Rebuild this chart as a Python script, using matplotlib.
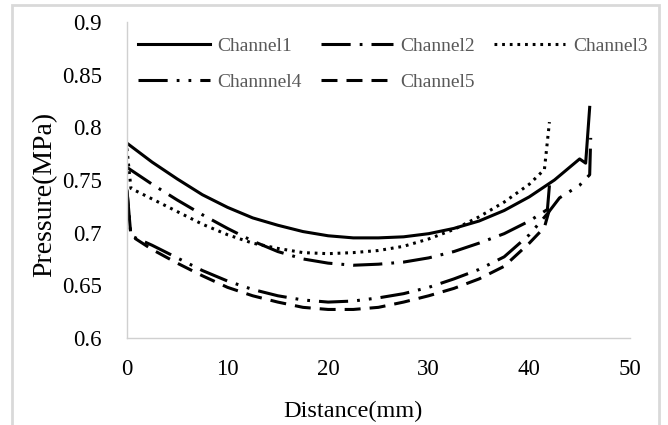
import numpy as np
import matplotlib.pyplot as plt
from matplotlib.patches import Rectangle

plt.rcParams['font.family'] = ['Liberation Serif', 'DejaVu Serif']
plt.rcParams['lines.scale_dashes'] = False

# Channel1 (solid)
x1 = [0, 2.5, 5, 7.5, 10, 12.5, 15, 17.5, 20, 22.5, 25, 27.5, 30, 32.5, 35, 37.5, 40, 42.5, 45, 45.6, 46]
y1 = [0.785, 0.767, 0.751, 0.736, 0.724, 0.714, 0.707, 0.701, 0.697, 0.695, 0.695, 0.696, 0.699,
      0.704, 0.711, 0.721, 0.734, 0.750, 0.770, 0.766, 0.819]

# Channel2 (dash dot)
x2 = [0, 2.5, 5, 7.5, 10, 12.5, 15, 17.5, 20, 22.5, 25, 27.5, 30, 32.5, 35, 37.5, 40, 41.8, 42]
y2 = [0.762, 0.746, 0.731, 0.717, 0.704, 0.692, 0.682, 0.675, 0.671, 0.669, 0.670, 0.672, 0.676,
      0.682, 0.690, 0.699, 0.711, 0.722, 0.745]

# Channel3 (dotted)
x3 = [0, 0.4, 2.5, 5, 7.5, 10, 12.5, 15, 17.5, 20, 22.5, 25, 27.5, 30, 32.5, 35, 37.5, 40, 41.5, 42]
y3 = [0.780, 0.742, 0.732, 0.720, 0.708, 0.698, 0.690, 0.685, 0.681, 0.680, 0.681, 0.683, 0.687,
      0.694, 0.703, 0.715, 0.729, 0.746, 0.760, 0.805]

# Channel4 (dash dot dot)
x4 = [0, 0.4, 2.5, 5, 7.5, 10, 12.5, 15, 17.5, 20, 22.5, 25, 27.5, 30, 32.5, 35, 37.5, 40, 41.8, 43, 45, 46, 46.1]
y4 = [0.741, 0.697, 0.688, 0.676, 0.664, 0.654, 0.646, 0.640, 0.636, 0.634, 0.635, 0.638, 0.642,
      0.648, 0.656, 0.665, 0.677, 0.698, 0.718, 0.733, 0.745, 0.755, 0.790]

# Channel5 (dashed)
x5 = [0, 0.4, 2.5, 5, 7.5, 10, 12.5, 15, 17.5, 20, 22.5, 25, 27.5, 30, 32.5, 35, 37.5, 40, 41.5, 42]
y5 = [0.740, 0.697, 0.684, 0.671, 0.659, 0.648, 0.640, 0.634, 0.629, 0.627, 0.627, 0.629, 0.634,
      0.640, 0.647, 0.656, 0.668, 0.690, 0.705, 0.722]

fig = plt.figure(figsize=(6.68, 4.25), dpi=100)
ax = fig.add_axes([0.190, 0.205, 0.753, 0.743])

lw = 2.2
l1, = ax.plot(x1, y1, color='black', lw=lw, label='Channel1')
l2, = ax.plot(x2, y2, color='black', lw=lw, linestyle=(0, (21, 6.5, 2, 6.5)), label='Channel2')
l3, = ax.plot(x3, y3, color='black', lw=lw, linestyle=(0, (2, 3.5)), label='Channel3')
l4, = ax.plot(x4, y4, color='black', lw=lw, linestyle=(0, (21, 6.5, 2, 6.5, 2, 6.5)), label='Channnel4')
l5, = ax.plot(x5, y5, color='black', lw=lw, linestyle=(0, (11.5, 6.5)), label='Channel5')

ax.set_xlim(0, 50)
ax.set_ylim(0.6, 0.9)
ax.set_xticks([0, 10, 20, 30, 40, 50])
ax.set_yticks([0.6, 0.65, 0.7, 0.75, 0.8, 0.85, 0.9])
ax.set_yticklabels(['0.6', '0.65', '0.7', '0.75', '0.8', '0.85', '0.9'])
ax.tick_params(length=0, labelsize=16.5)
ax.tick_params(axis='x', pad=15)
ax.tick_params(axis='y', pad=18)
for s in ['top', 'right']:
    ax.spines[s].set_visible(False)
for s in ['left', 'bottom']:
    ax.spines[s].set_color('#d0d0d0')
    ax.spines[s].set_linewidth(1.0)

ax.set_xlabel('Distance(mm)', fontsize=17.5)
ax.xaxis.set_label_coords(0.45, -0.20)
ax.set_ylabel('Pressure(MPa)', fontsize=20)
ax.yaxis.set_label_coords(-0.138, 0.453)

ax.legend([l1, l4, l2, l5, l3], ['Channel1', 'Channnel4', 'Channel2', 'Channel5', 'Channel3'],
          ncol=3, loc='upper left', bbox_to_anchor=(138 / 668, 1 - 37 / 425),
          bbox_transform=fig.transFigure, frameon=False, fontsize=14,
          handlelength=3.7, handletextpad=0.4, columnspacing=0.95,
          labelspacing=0.95, borderpad=0, borderaxespad=0, labelcolor='#595959')

fig.patches.append(Rectangle((12 / 668, -0.05), 647 / 668, 1.05 - 5 / 425,
                             transform=fig.transFigure, fill=False,
                             edgecolor='#d9d9d9', lw=2))

fig.savefig('out.png', dpi=100)
